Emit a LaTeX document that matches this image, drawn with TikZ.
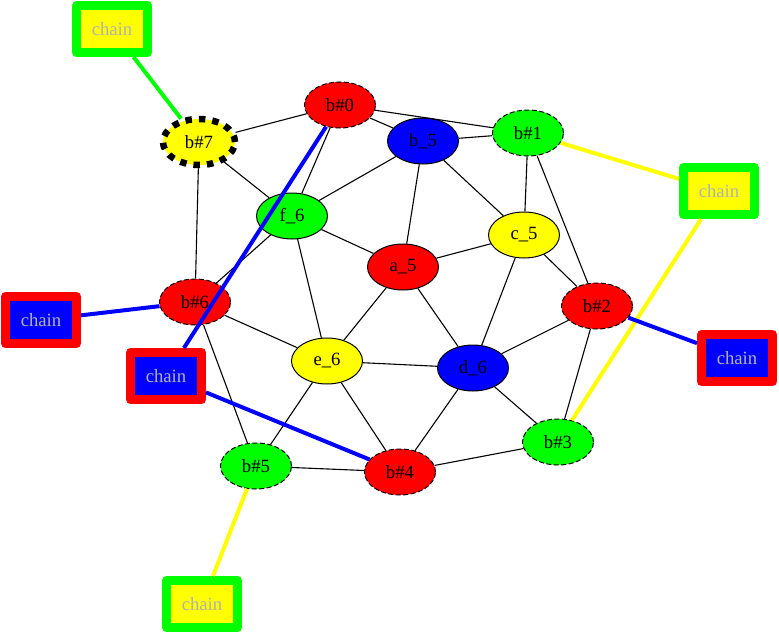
\documentclass[tikz,border=0pt]{standalone}
\usepackage{fontspec}
\setmainfont{Liberation Serif}
\usetikzlibrary{shapes.geometric}
\definecolor{gvred}{RGB}{255,0,0}
\definecolor{gvgreen}{RGB}{0,255,0}
\definecolor{gvblue}{RGB}{0,0,255}
\definecolor{gvyellow}{RGB}{255,255,0}
\definecolor{chaintxt}{RGB}{178,178,178}
\begin{document}
\begin{tikzpicture}[x=1pt,y=-1pt,
  nd/.style={ellipse, draw=black, line width=1pt, minimum width=71pt, minimum height=46pt, inner sep=0pt, font=\fontsize{18.7}{20}\selectfont},
  dsh/.style={nd, dash pattern=on 5pt off 2.5pt},
  thickdsh/.style={nd, line width=6.5pt, minimum width=72pt, minimum height=46pt, dash pattern=on 6.5pt off 7pt},
  chainbox/.style={rectangle, line width=9pt, line join=round, minimum width=71pt, minimum height=47pt, inner sep=0pt, text=chaintxt, font=\fontsize{18.7}{20}\selectfont},
  gy/.style={chainbox, draw=gvgreen, fill=gvyellow},
  rb/.style={chainbox, draw=gvred, fill=gvblue},
  ed/.style={draw=black, line width=1.1pt},
  ced/.style={line width=4pt}
]
\useasboundingbox (0,0) rectangle (779,634);
% graph nodes
\node[dsh, fill=gvred] (b0) at (340,105) {b\#0};
\node[nd, fill=gvblue] (b5) at (423,141) {b\_5};
\node[dsh, fill=gvgreen] (b1) at (528,133) {b\#1};
\node[thickdsh, fill=gvyellow] (b7) at (199,142) {b\#7};
\node[nd, fill=gvgreen] (f6) at (292,216) {f\_6};
\node[nd, fill=gvyellow] (c5) at (524,235) {c\_5};
\node[nd, fill=gvred] (a5) at (403,267) {a\_5};
\node[dsh, fill=gvred] (h6) at (195,302) {b\#6};
\node[dsh, fill=gvred] (b2) at (597,306) {b\#2};
\node[nd, fill=gvyellow] (e6) at (327,361) {e\_6};
\node[nd, fill=gvblue] (d6) at (473,368) {d\_6};
\node[dsh, fill=gvgreen] (b3) at (558,442) {b\#3};
\node[dsh, fill=gvred] (b4) at (400,472) {b\#4};
\node[dsh, fill=gvgreen] (h5) at (256,466) {b\#5};
% chain nodes
\node[gy] (ch1) at (112,29) {chain};
\node[gy] (ch2) at (719,191) {chain};
\node[rb] (ch3) at (41,320) {chain};
\node[rb] (ch4) at (166,376) {chain};
\node[rb] (ch5) at (737,358) {chain};
\node[gy] (ch6) at (202,604) {chain};
% black edges
\draw[ed] (b7) -- (b0);
\draw[ed] (b7) -- (f6);
\draw[ed] (b7) -- (h6);
\draw[ed] (b0) -- (b5);
\draw[ed] (b0) -- (b1);
\draw[ed] (b0) -- (f6);
\draw[ed] (b5) -- (b1);
\draw[ed] (b5) -- (f6);
\draw[ed] (b5) -- (a5);
\draw[ed] (b5) -- (c5);
\draw[ed] (b1) -- (c5);
\draw[ed] (b1) -- (b2);
\draw[ed] (c5) -- (a5);
\draw[ed] (c5) -- (b2);
\draw[ed] (c5) -- (d6);
\draw[ed] (f6) -- (a5);
\draw[ed] (f6) -- (h6);
\draw[ed] (f6) -- (e6);
\draw[ed] (a5) -- (e6);
\draw[ed] (a5) -- (d6);
\draw[ed] (h6) -- (e6);
\draw[ed] (h6) -- (h5);
\draw[ed] (b2) -- (d6);
\draw[ed] (b2) -- (b3);
\draw[ed] (e6) -- (d6);
\draw[ed] (e6) -- (h5);
\draw[ed] (e6) -- (b4);
\draw[ed] (d6) -- (b4);
\draw[ed] (d6) -- (b3);
\draw[ed] (b3) -- (b4);
\draw[ed] (b4) -- (h5);
% chain edges
\draw[ced, draw=gvgreen] (ch1) -- (b7);
\draw[ced, draw=gvyellow] (ch2) -- (b1);
\draw[ced, draw=gvyellow] (ch2) -- (b3);
\draw[ced, draw=gvblue] (ch3) -- (h6);
\draw[ced, draw=gvblue] (ch4) -- (b0);
\draw[ced, draw=gvblue] (ch4) -- (b4);
\draw[ced, draw=gvblue] (ch5) -- (b2);
\draw[ced, draw=gvyellow] (ch6) -- (h5);
\end{tikzpicture}
\end{document}
